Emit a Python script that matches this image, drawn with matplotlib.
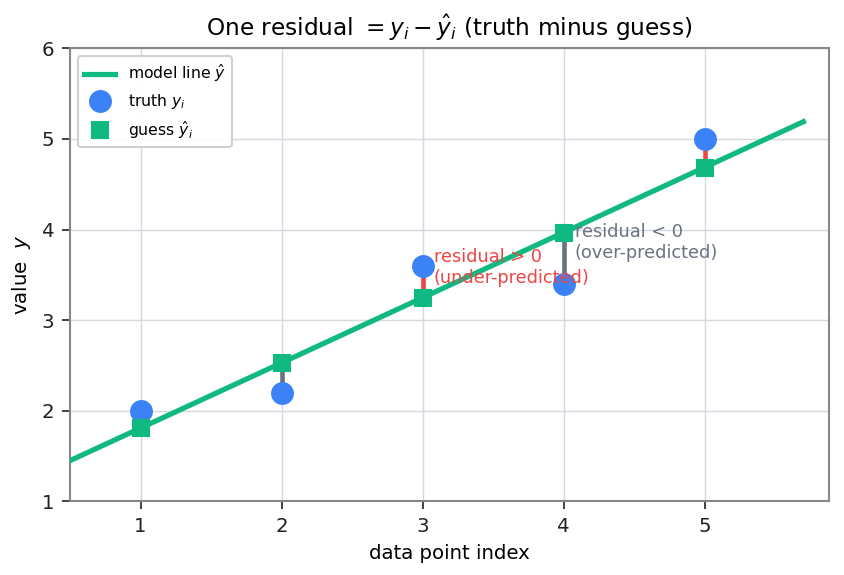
import matplotlib
matplotlib.use("Agg")
import matplotlib.pyplot as plt
import numpy as np

x_idx = [1, 2, 3, 4, 5]
truth = [2.0, 2.2, 3.6, 3.4, 5.0]
guess = [1.81, 2.53, 3.25, 3.96, 4.68]
line_x = [0.5, 5.7]
line_y = [1.45, 5.19]

GREEN = "#10b981"
BLUE = "#3b82f6"
RED = "#ef4444"
GRAY = "#6b7280"

fig, ax = plt.subplots(figsize=(844/150, 575/150), dpi=150)
fig.subplots_adjust(left=0.083, right=0.982, top=0.916, bottom=0.128)

ax.grid(True, color="#d3d9de", linewidth=0.7, zorder=0)
ax.set_axisbelow(True)

for xi, t, g in zip(x_idx, truth, guess):
    c = RED if t > g else GRAY
    ax.plot([xi, xi], [g, t], color=c, linewidth=2.2, zorder=2)

ax.plot(line_x, line_y, color=GREEN, linewidth=2.5, label=r"model line $\hat{y}$", zorder=3)
ax.plot(x_idx, truth, "o", color=BLUE, markersize=10, linestyle="none", label=r"truth $y_i$", zorder=4)
ax.plot(x_idx, guess, "s", color=GREEN, markersize=8, linestyle="none", label=r"guess $\hat{y}_i$", zorder=5)

ax.text(3.08, 3.585, "residual > 0\n(under-predicted)", color=RED, fontsize=8.5, va="center", ha="left", zorder=6)
ax.text(4.08, 3.855, "residual < 0\n(over-predicted)", color=GRAY, fontsize=8.5, va="center", ha="left", zorder=6)

ax.set_xlim(0.5, 5.88)
ax.set_ylim(1, 6)
ax.set_xticks([1, 2, 3, 4, 5])
ax.set_yticks([1, 2, 3, 4, 5, 6])
ax.tick_params(labelsize=9.5, colors="#222222", length=4)
for s in ax.spines.values():
    s.set_color("#888888")
    s.set_linewidth(1.0)

ax.set_xlabel("data point index", fontsize=9.5)
ax.set_ylabel(r"value  $y$", fontsize=9.5)
ax.set_title(r"One residual $ = y_i - \hat{y}_i$ (truth minus guess)", fontsize=11.2)

ax.legend(loc="upper left", fontsize=7.5, framealpha=0.9, edgecolor="#cccccc")

fig.savefig("out.png", dpi=150)
